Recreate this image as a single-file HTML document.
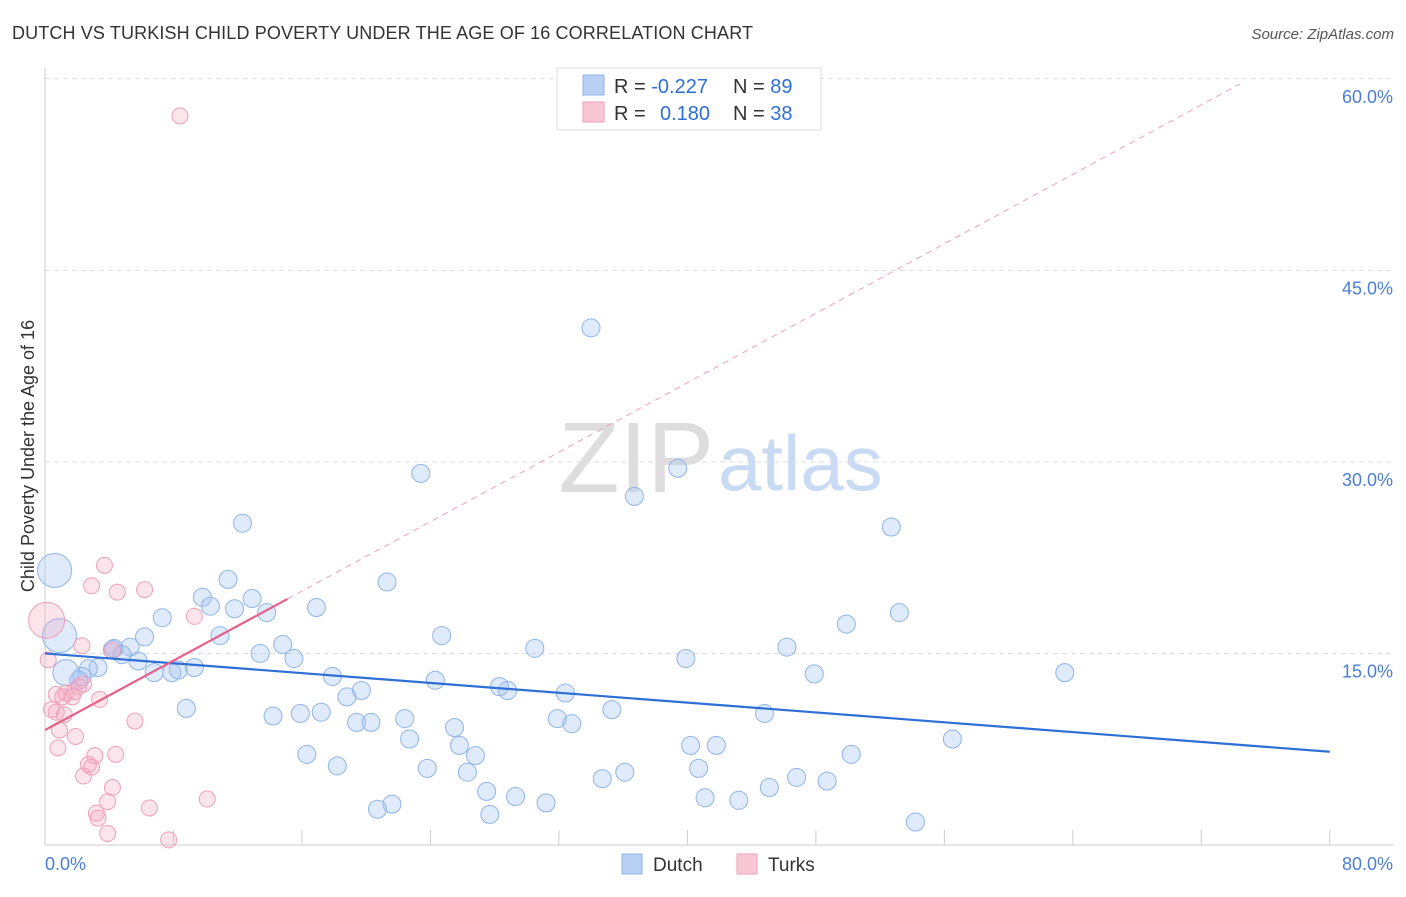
<!DOCTYPE html>
<html><head><meta charset="utf-8"><style>
body{margin:0;background:#fff;font-family:"Liberation Sans",sans-serif;}
svg text{font-family:"Liberation Sans",sans-serif;}
</style></head><body>
<svg id="chart" width="1406" height="892">
<text x="12" y="39" font-size="18" fill="#333" textLength="741">DUTCH VS TURKISH CHILD POVERTY UNDER THE AGE OF 16 CORRELATION CHART</text>
<text x="1394" y="39" font-size="15" fill="#555" text-anchor="end" font-style="italic">Source: ZipAtlas.com</text>
<text x="34" y="456" font-size="18" fill="#333" text-anchor="middle" transform="rotate(-90 34 456)">Child Poverty Under the Age of 16</text>
<text x="714" y="492" font-size="100" fill="#ddd" text-anchor="end" font-family="Liberation Serif">ZIP</text>
<text x="718" y="490" font-size="78" fill="#c8daf4">atlas</text>
<g id="grid"></g><g id="marks"></g>
<g>
<rect x="557" y="68" width="264" height="62" fill="#fff" stroke="#ddd"/>
<rect x="583" y="75" width="21" height="20" fill="#b8d0f4" stroke="#8fb3e8"/>
<rect x="583" y="102" width="21" height="20" fill="#f9c6d6" stroke="#f0a0b8"/>
<text x="614" y="93" font-size="20" fill="#333">R = <tspan fill="#2e6fd6">-0.227</tspan></text>
<text x="733" y="93" font-size="20" fill="#333">N = <tspan fill="#2e6fd6">89</tspan></text>
<text x="614" y="120" font-size="20" fill="#333">R = <tspan fill="#2e6fd6" x="660">0.180</tspan></text>
<text x="733" y="120" font-size="20" fill="#333">N = <tspan fill="#2e6fd6">38</tspan></text>
</g>
<g>
<rect x="622" y="854" width="20" height="20" fill="#b8d0f4" stroke="#8fb3e8"/>
<text x="653" y="871" font-size="19" fill="#333">Dutch</text>
<rect x="737" y="854" width="20" height="20" fill="#f9c6d6" stroke="#f0a0b8"/>
<text x="768" y="871" font-size="19" fill="#333">Turks</text>
</g>
</svg>
<script>
const xTickVals=[0,8,16,24,32,40,48,56,64,72,80];
const yTickVals=[15,30,45,60];
const xEndLabels=["0.0%","80.0%"];
const dutchX=[34.0,23.4,39.4,36.7,12.3,52.7,21.3,11.4,12.9,9.8,10.3,11.8,7.3,13.8,16.9,53.2,49.9,6.2,10.9,24.7,4.3,5.3,14.8,30.5,46.2,4.2,4.8,5.8,13.4,15.5,39.9,3.3,2.7,6.8,7.9,8.3,9.3,17.9,47.9,63.5,24.3,2.3,2.1,28.3,28.8,19.7,18.8,32.4,8.8,14.2,15.9,17.2,22.4,31.9,32.8,35.3,44.8,19.4,20.3,25.5,22.7,25.8,26.8,16.3,40.2,41.8,50.2,56.5,18.2,23.8,26.3,36.1,40.7,34.7,46.8,48.7,45.1,27.5,29.3,31.2,41.1,43.2,21.6,20.7,27.7,54.2,0.9,0.6,1.3];
const dutchY=[40.5,29.1,29.5,27.3,25.2,24.9,20.6,20.8,19.3,19.4,18.7,18.5,17.8,18.2,18.6,18.2,17.3,16.3,16.4,16.4,15.4,15.5,15.7,15.4,15.5,15.3,14.9,14.4,15.0,14.6,14.6,13.9,13.8,13.5,13.5,13.7,13.9,13.2,13.4,13.5,12.9,13.2,12.9,12.4,12.1,12.1,11.6,11.9,10.7,10.1,10.3,10.4,9.9,9.9,9.5,10.6,10.3,9.6,9.6,9.2,8.3,7.8,7.0,7.1,7.8,7.8,7.1,8.3,6.2,6.0,5.7,5.7,6.0,5.2,5.3,5.0,4.5,4.2,3.8,3.3,3.7,3.5,3.2,2.8,2.4,1.8,16.4,21.5,13.5];
const dutchR=[9,9,9,9,9,9,9,9,9,9,9,9,9,9,9,9,9,9,9,9,9,9,9,9,9,9,9,9,9,9,9,9,9,9,9,9,9,9,9,9,9,9,9,9,9,9,9,9,9,9,9,9,9,9,9,9,9,9,9,9,9,9,9,9,9,9,9,9,9,9,9,9,9,9,9,9,9,9,9,9,9,9,9,9,9,9,17,17,13];
const turkX=[8.4,3.7,2.9,4.5,6.2,9.3,2.3,4.2,0.1,0.2,0.7,1.3,1.8,2.1,2.4,1.1,1.7,3.4,0.4,0.7,1.2,0.9,1.9,5.6,0.8,3.1,4.4,2.7,2.9,2.4,4.2,10.1,3.9,6.5,3.2,3.3,3.9,7.7];
const turkY=[57.1,21.9,20.3,19.8,20.0,17.9,15.6,15.2,17.6,14.5,11.8,11.9,12.0,12.4,12.6,11.6,11.6,11.4,10.6,10.4,10.2,9.0,8.5,9.7,7.6,7.0,7.1,6.3,6.1,5.4,4.5,3.6,3.4,2.9,2.5,2.1,0.9,0.4];
const turkR=[8,8,8,8,8,8,8,8,18,8,8,8,8,8,8,8,8,8,8,8,8,8,8,8,8,8,8,8,8,8,8,8,8,8,8,8,8,8];
const dutchTrend=[15.0,7.3];
const turkTrend=[9.0,0.68];
const NS="http://www.w3.org/2000/svg";
const xs=v=>45+v*16.06, ys=v=>845-v*12.77;
const grid=document.getElementById('grid'), marks=document.getElementById('marks');
function mk(tag,attrs,parent){const e=document.createElementNS(NS,tag);for(const k in attrs)e.setAttribute(k,attrs[k]);parent.appendChild(e);return e;}
yTickVals.forEach(v=>{
 const l=mk('line',{x1:45,x2:1394,y1:ys(v),y2:ys(v),stroke:'#ddd','stroke-dasharray':'5,4'},grid);
 
 
 const t=mk('text',{x:1393,y:ys(v)+24,'font-size':18,fill:'#4a7fd4','text-anchor':'end'},grid);t.textContent=v.toFixed(1)+'%';
 
 
});
const ax=mk('line',{x1:45,x2:1394,y1:845,y2:845,stroke:'#ccc'},grid);


const ay=mk('line',{x1:45,x2:45,y1:68,y2:845,stroke:'#ccc'},grid);


xTickVals.forEach(v=>{const t=mk('line',{x1:xs(v),x2:xs(v),y1:830,y2:845,stroke:'#ccc'},grid);
 
 });
[[0,'start'],[80,'end']].forEach((p,i)=>{const t=mk('text',{x:i?1393:45,y:870,'font-size':18,fill:'#4a7fd4','text-anchor':p[1]},grid);t.textContent=xEndLabels[i];
 
 });
dutchX.forEach((x,i)=>{const c=mk('circle',{cx:xs(x),cy:ys(dutchY[i]),r:dutchR[i],fill:'rgba(164,194,244,0.35)',stroke:'#90b4ea','stroke-width':1},marks);
 
 });
turkX.forEach((x,i)=>{const c=mk('circle',{cx:xs(x),cy:ys(turkY[i]),r:turkR[i],fill:'rgba(244,164,190,0.3)',stroke:'#f0a0b8','stroke-width':1},marks);
 
 });
const dl=mk('line',{x1:xs(0),y1:ys(dutchTrend[0]),x2:xs(80),y2:ys(dutchTrend[1]),stroke:'#2e6fd6','stroke-width':2.2},marks);


const td=mk('line',{x1:xs(15.1),y1:ys(turkTrend[0]+turkTrend[1]*15.1),x2:xs(74.4),y2:ys(turkTrend[0]+turkTrend[1]*74.4),stroke:'#f0a0b8','stroke-width':1,'stroke-dasharray':'6,5'},marks);


const tl=mk('line',{x1:xs(0),y1:ys(turkTrend[0]),x2:xs(15.1),y2:ys(turkTrend[0]+turkTrend[1]*15.1),stroke:'#e8608a','stroke-width':2.2},marks);


</script>
</body></html>
